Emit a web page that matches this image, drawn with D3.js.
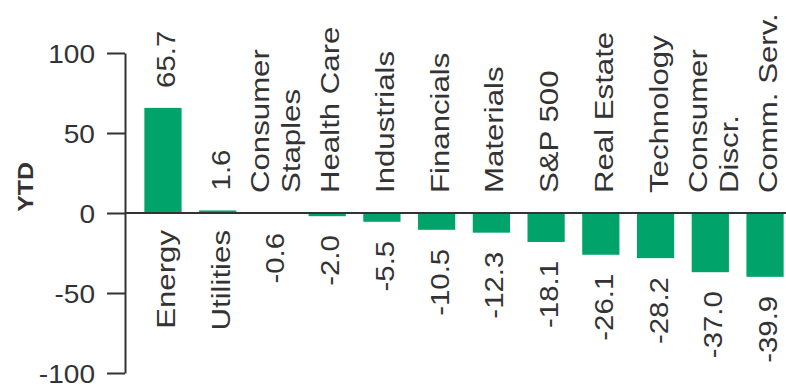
<!DOCTYPE html>
<html>
<head>
<meta charset="utf-8">
<script src="https://cdn.jsdelivr.net/npm/d3@7"></script>
<style>
  html, body { margin: 0; padding: 0; background: #fff; }
  svg { display: block; }
</style>
</head>
<body>
<svg id="chart" width="786" height="388"></svg>
<script>
// Sector returns, year to date (%)
const categories = ["Energy", "Utilities", "Consumer\nStaples", "Health Care", "Industrials",
  "Financials", "Materials", "S&P 500", "Real Estate", "Technology", "Consumer\nDiscr.", "Comm. Serv."];
const ytdValues = [65.7, 1.6, -0.6, -2.0, -5.5, -10.5, -12.3, -18.1, -26.1, -28.2, -37.0, -39.9];
const yTicks = [-100, -50, 0, 50, 100];
const axisTitle = "YTD";

const W = 786, H = 388;
const svg = d3.select("#chart");
const ink = "#333";
const green = "#00a36a";
const font = "'Liberation Sans', Arial, Helvetica, sans-serif";

const locale = d3.formatLocale({ decimal: ".", thousands: ",", grouping: [3], currency: ["$", ""], minus: "-" });
const fmtTick = locale.format("d");
const fmtVal = locale.format(".1f");

const data = categories.map((c, i) => ({ c, v: ytdValues[i] }));

const x = d3.scaleBand().domain(categories).range([135.6, 792.4])
  .paddingInner(0.32).paddingOuter(0.16);
const y = d3.scaleLinear().domain([-100, 100]).range([373, 53]);
const axisX = 125;

// bars
svg.append("g").selectAll("rect").data(data).join("rect")
  .attr("x", d => x(d.c))
  .attr("width", x.bandwidth())
  .attr("y", d => y(Math.max(0, d.v)))
  .attr("height", d => Math.abs(y(d.v) - y(0)))
  .attr("fill", green);

// y axis
const yAxis = svg.append("g").attr("transform", `translate(${axisX},0)`)
  .call(d3.axisLeft(y).tickValues(yTicks).tickSize(18).tickSizeOuter(0).tickPadding(12).tickFormat(fmtTick));
yAxis.select(".domain").attr("stroke", ink).attr("stroke-width", 2);
yAxis.selectAll(".tick line").attr("stroke", ink).attr("stroke-width", 2);
yAxis.selectAll(".tick text")
  .attr("fill", ink)
  .attr("font-family", font)
  .attr("font-size", 26.5)
  .attr("x", null)
  .attr("dy", "0.36em")
  .attr("transform", "translate(-30,0) scale(1.06,1)");

// zero line
svg.append("line")
  .attr("x1", axisX).attr("x2", W)
  .attr("y1", y(0)).attr("y2", y(0))
  .attr("stroke", ink).attr("stroke-width", 2);

// axis title
svg.append("text")
  .attr("transform", "translate(33,187) rotate(-90) scale(1.13,1)")
  .attr("text-anchor", "middle")
  .attr("font-family", font)
  .attr("font-weight", "bold")
  .attr("font-size", 22)
  .attr("fill", ink)
  .text(axisTitle);

const labels = svg.append("g").attr("font-family", font).attr("fill", ink);
const cx = d => x(d.c) + x.bandwidth() / 2;

// value labels beyond the bar end
labels.selectAll("text.val").data(data).join("text")
  .attr("class", "val")
  .attr("font-size", 26)
  .attr("text-anchor", d => d.v >= 0 ? "start" : "end")
  .attr("transform", d => {
    const yy = d.v >= 0 ? y(d.v) - 20 : y(d.v) + 19;
    return `translate(${cx(d) + 12},${yy}) rotate(-90) scale(1.13,1)`;
  })
  .text(d => fmtVal(d.v));

// category labels on the opposite side of the zero line
const cat = labels.selectAll("text.cat").data(data).join("text")
  .attr("class", "cat")
  .attr("font-size", 26)
  .attr("text-anchor", d => d.v >= 0 ? "end" : "start")
  .attr("transform", d => {
    const yy = d.v >= 0 ? y(0) + 17 : y(0) - 20;
    return `translate(${cx(d)},${yy}) rotate(-90) scale(1.2,1)`;
  });
cat.selectAll("tspan").data(d => {
    const lines = d.c.split("\n");
    return lines.map((t, i) => ({ t, off: lines.length === 1 ? 12 : -3 + 31 * i }));
  }).join("tspan")
  .attr("x", 0)
  .attr("y", l => l.off)
  .text(l => l.t);
</script>
</body>
</html>
